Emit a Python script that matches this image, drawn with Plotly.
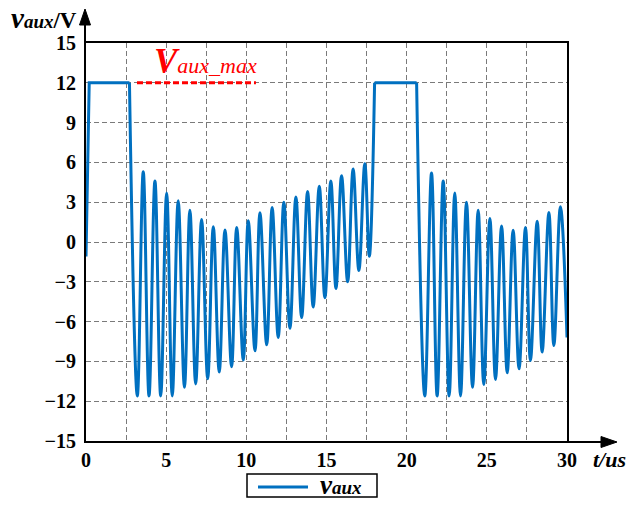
import plotly.graph_objects as go

# ---- axis ticks ----
x_ticks = [0, 5, 10, 15, 20, 25, 30]          # t / us
y_ticks = [-15, -12, -9, -6, -3, 0, 3, 6, 9, 12, 15]  # v_aux / V

# ---- clamped intervals (v_aux held at 12 V) ----
flat1_t = [0.0, 0.2, 2.71]
flat1_v = [-1.1, 12.0, 12.0]
flat2_t = [18.0, 20.62]
flat2_v = [12.0, 12.0]

# ---- first ringing interval: turning points ----
ring1_trough_t = [3.20, 3.93, 4.66, 5.38, 6.14, 6.84, 7.59, 8.31, 9.08, 9.81, 10.54,
                  11.27, 11.99, 12.72, 13.45, 14.17, 14.90, 15.59, 16.32, 17.02, 17.67]
ring1_trough_v = [-11.6, -11.6, -11.6, -11.6, -10.95, -10.7, -10.3, -9.8, -9.4, -8.9, -8.2,
                  -7.75, -7.2, -6.5, -5.7, -4.9, -4.2, -3.5, -3.0, -2.15, -1.07]
ring1_peak_t = [3.57, 4.30, 5.03, 5.75, 6.48, 7.21, 7.94, 8.67, 9.40, 10.12,
                10.85, 11.61, 12.34, 13.09, 13.82, 14.55, 15.27, 15.94, 16.66, 17.39]
ring1_peak_v = [5.3, 4.6, 3.7, 3.1, 2.4, 1.7, 1.15, 0.9, 1.1, 1.6,
                2.2, 2.6, 3.0, 3.4, 3.8, 4.2, 4.6, 5.0, 5.5, 5.9]

# ---- second ringing interval: turning points ----
ring2_trough_t = [21.13, 21.90, 22.65, 23.36, 24.11, 24.81, 25.54, 26.27, 27.01, 27.72, 28.45, 29.18]
ring2_trough_v = [-11.6, -11.6, -11.6, -11.6, -10.95, -10.74, -10.36, -9.86, -9.56, -8.93, -8.3, -7.8]
ring2_peak_t = [21.55, 22.28, 23.00, 23.73, 24.46, 25.19, 25.92, 26.64, 27.41, 28.14, 28.87, 29.59]
ring2_peak_v = [5.2, 4.6, 3.7, 3.0, 2.4, 1.77, 1.21, 0.89, 1.09, 1.57, 2.22, 2.65]
end_t, end_v = 30.0, -7.2

# ---- V_aux_max marker ----
vaux_max = 12.0
vaux_max_span = [3.18, 10.6]

BLUE = "#0070C0"
RED = "#FF0000"
FONT = "Liberation Serif, Times New Roman, serif"


def merge(start, tt, tv, pt, pv, stop):
    pts = sorted(list(zip(tt, tv)) + list(zip(pt, pv)))
    pts = [start] + pts + [stop]
    return [p[0] for p in pts], [p[1] for p in pts]


r1_t, r1_v = merge((flat1_t[-1], flat1_v[-1]), ring1_trough_t, ring1_trough_v,
                   ring1_peak_t, ring1_peak_v, (flat2_t[0], flat2_v[0]))
r2_t, r2_v = merge((flat2_t[-1], flat2_v[-1]), ring2_trough_t, ring2_trough_v,
                   ring2_peak_t, ring2_peak_v, (end_t, end_v))

fig = go.Figure()
line_flat = dict(color=BLUE, width=3, shape="linear")
line_ring = dict(color=BLUE, width=3, shape="spline", smoothing=1.1, simplify=False)
fig.add_trace(go.Scatter(x=flat1_t, y=flat1_v, mode="lines", line=line_flat,
                         name="v_aux", legendgroup="vaux", showlegend=False))
fig.add_trace(go.Scatter(x=r1_t, y=r1_v, mode="lines", line=line_ring,
                         legendgroup="vaux", showlegend=False))
fig.add_trace(go.Scatter(x=flat2_t, y=flat2_v, mode="lines", line=line_flat,
                         legendgroup="vaux", showlegend=False))
fig.add_trace(go.Scatter(x=r2_t, y=r2_v, mode="lines", line=line_ring,
                         legendgroup="vaux", showlegend=False))

# ---- page geometry ----
W, H = 628, 506
ML, MR, MT, MB = 86, 61, 43, 65
PW = W - ML - MR
PH = H - MT - MB


def px(xp):
    return (xp - ML) / PW


def py(yp):
    return (H - MB - yp) / PH


grid = dict(gridcolor="#7a7a7a", gridwidth=1, griddash="5px,3px")

fig.update_xaxes(range=[0, 30], tickvals=x_ticks, showgrid=True, **grid,
                 minor=dict(dtick=2.5, showgrid=True, **grid),
                 zeroline=False, showline=True, linecolor="black", linewidth=2,
                 mirror=True, ticks="",
                 tickfont=dict(family=FONT, size=20, color="black", weight="bold"))
fig.update_yaxes(range=[-15, 15], tickvals=y_ticks, showgrid=True, **grid,
                 zeroline=False, showline=True, linecolor="black", linewidth=2,
                 mirror=True, ticks="", ticklabelstandoff=4,
                 tickfont=dict(family=FONT, size=20, color="black", weight="bold"))

shapes = []
# V_aux_max dashed level
shapes.append(dict(type="line", xref="x", yref="y", x0=vaux_max_span[0], x1=vaux_max_span[1],
                   y0=vaux_max, y1=vaux_max, line=dict(color=RED, width=3, dash="6px,3px")))
# axis arrows
shapes.append(dict(type="line", xref="paper", yref="paper", x0=px(85), x1=px(85),
                   y0=1.0, y1=py(22), line=dict(color="black", width=2)))
shapes.append(dict(type="path", xref="paper", yref="paper",
                   path=f"M{px(85)},{py(9)} L{px(79.5)},{py(25)} L{px(90.5)},{py(25)} Z",
                   fillcolor="black", line=dict(color="black", width=1)))
shapes.append(dict(type="line", xref="paper", yref="paper", x0=1.0, x1=px(606),
                   y0=py(442), y1=py(442), line=dict(color="black", width=2)))
shapes.append(dict(type="path", xref="paper", yref="paper",
                   path=f"M{px(617)},{py(442)} L{px(601)},{py(436.5)} L{px(601)},{py(447.5)} Z",
                   fillcolor="black", line=dict(color="black", width=1)))
# legend box and line sample
shapes.append(dict(type="rect", xref="paper", yref="paper", x0=px(247), x1=px(377),
                   y0=py(497), y1=py(474), line=dict(color="black", width=1.5),
                   fillcolor="white"))
shapes.append(dict(type="line", xref="paper", yref="paper", x0=px(258), x1=px(308),
                   y0=py(487), y1=py(487), line=dict(color=BLUE, width=3)))

annotations = [
    dict(xref="paper", yref="paper", x=px(10), y=py(18), xanchor="left", yanchor="middle",
         showarrow=False, borderpad=0,
         text="<span style='font-size:29px'><b><i>v</i></b></span><b><i>aux</i></b>"
              "<span style='font-size:23px'><b>/V</b></span>",
         font=dict(family=FONT, size=19, color="black")),
    dict(xref="paper", yref="paper", x=px(591), y=py(459.5), xanchor="left", yanchor="middle",
         showarrow=False, text="<b><i>t/us</i></b>",
         font=dict(family=FONT, size=22, color="black")),
    dict(xref="paper", yref="paper", x=px(152), y=py(61.5), xanchor="left", yanchor="middle",
         showarrow=False,
         text="<span style='font-size:35px'><b><i>V</i></b></span><i>aux_max</i>",
         font=dict(family=FONT, size=22, color=RED)),
    dict(xref="paper", yref="paper", x=px(319), y=py(485), xanchor="left", yanchor="middle",
         showarrow=False, borderpad=0,
         text="<span style='font-size:27px'><b><i>v</i></b></span><b><i>aux</i></b>",
         font=dict(family=FONT, size=19, color="black")),
]

fig.update_layout(width=W, height=H, margin=dict(l=ML, r=MR, t=MT, b=MB, pad=0),
                  paper_bgcolor="white", plot_bgcolor="white", showlegend=False,
                  font=dict(family=FONT),
                  shapes=shapes, annotations=annotations)

fig.write_html("out.html")
